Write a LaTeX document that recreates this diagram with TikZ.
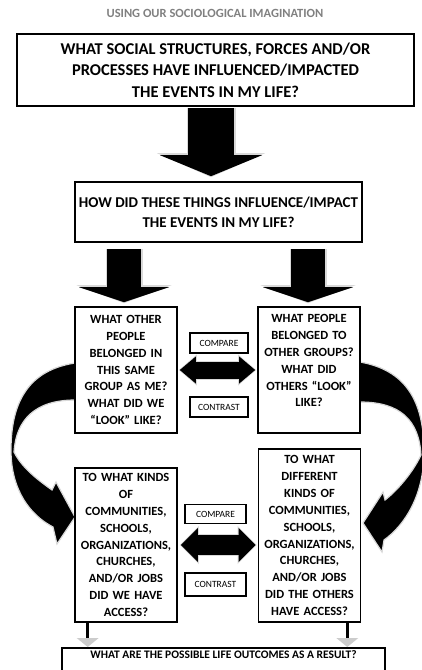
\documentclass[tikz,border=0pt]{standalone}
\usepackage{fontspec}
\setmainfont{Carlito}
\usetikzlibrary{arrows.meta}
\tikzset{>=latex}
\tikzset{
  qbox/.style={draw, line width=1.6pt, align=center, inner sep=2pt},
  sbox/.style={qbox, text width=96pt, minimum width=102pt, font=\bfseries\fontsize{12.5}{16.9}\selectfont},
  tagbox/.style={draw, line width=1.1pt, inner sep=0pt, font=\fontsize{9.5}{11}\selectfont},
  blockarr/.style n args={3}{line width=#1, -{Triangle[width=#2,length=#3,line width=0pt]}},
  dblarr/.style n args={3}{line width=#1, {Triangle[width=#2,length=#3,line width=0pt]}-{Triangle[width=#2,length=#3,line width=0pt]}},
  curvearr/.style={fill=black, draw=black!15, line width=1.2pt}
}

\begin{document}
\begin{tikzpicture}[x=1pt,y=-1pt]

\useasboundingbox (0,0) rectangle (422,670);
\clip (0,0) rectangle (422,670);

\node[text=black!50, font=\bfseries\fontsize{12.5}{14}\selectfont] (title) at (215,13) {USING OUR SOCIOLOGICAL IMAGINATION};

% side arrows
\draw[curvearr] (75,363) .. controls (30,370) and (11,400) .. (11,450)
  .. controls (11,490) and (30,515) .. (53,527) -- (57,544) -- (75,517) -- (56,482) -- (52,490)
  .. controls (38,480) and (22,468) .. (14,452) .. controls (16,420) and (35,400) .. (75,400) -- cycle;
\draw[curvearr] (360,362) .. controls (405,370) and (424,400) .. (424,452)
  .. controls (424,495) and (405,525) .. (384,540) -- (382,552) -- (363,523) -- (383,492) -- (385,500)
  .. controls (398,490) and (413,472) .. (421,455) .. controls (419,420) and (400,402) .. (360,402) -- cycle;

\node[qbox, minimum width=397pt, minimum height=72pt, font=\bfseries\fontsize{16.5}{21.5}\selectfont] (q1) at (215.5,70)
  {WHAT SOCIAL STRUCTURES, FORCES AND/OR\\ PROCESSES HAVE INFLUENCED/IMPACTED\\ THE EVENTS IN MY LIFE?};
\node[qbox, minimum width=287pt, minimum height=60pt, font=\bfseries\fontsize{15}{20}\selectfont] (q2) at (218.5,212)
  {HOW DID THESE THINGS INFLUENCE/IMPACT\\ THE EVENTS IN MY LIFE?};

\node[sbox, minimum height=126pt] (l1) at (126,370)
  {WHAT OTHER\\ PEOPLE\\ BELONGED IN\\ THIS SAME\\ GROUP AS ME?\\ WHAT DID WE\\ “LOOK” LIKE?};
\node[sbox, minimum height=126pt, text depth=103.4pt] (r1) at (309,370)
  {WHAT PEOPLE\\ BELONGED TO\\ OTHER GROUPS?\\ WHAT DID\\ OTHERS “LOOK”\\ LIKE?};
\node[sbox, minimum height=154pt] (l2) at (126,545)
  {TO WHAT KINDS\\ OF\\ COMMUNITIES,\\ SCHOOLS,\\ ORGANIZATIONS,\\ CHURCHES,\\ AND/OR JOBS\\ DID WE HAVE\\ ACCESS?};
\node[sbox, minimum height=173pt] (r2) at (309.5,535.5)
  {TO WHAT\\ DIFFERENT\\ KINDS OF\\ COMMUNITIES,\\ SCHOOLS,\\ ORGANIZATIONS,\\ CHURCHES,\\ AND/OR JOBS\\ DID THE OTHERS\\ HAVE ACCESS?};

\node[tagbox, minimum width=58pt, minimum height=20pt] (cmp1) at (219,343) {COMPARE};
\node[tagbox, minimum width=58pt, minimum height=20pt] (con1) at (219,407) {CONTRAST};
\node[tagbox, minimum width=61pt, minimum height=19pt] (cmp2) at (215.5,514) {COMPARE};
\node[tagbox, minimum width=61pt, minimum height=23pt] (con2) at (215.5,584.5) {CONTRAST};

\node[qbox, anchor=north, minimum width=323pt, text height=9pt, text depth=28pt, font=\bfseries\fontsize{11.5}{14}\selectfont] (res) at (223.5,647)
  {WHAT ARE THE POSSIBLE LIFE OUTCOMES AS A RESULT?};

\coordinate (c0) at (211,0);
\coordinate (c1) at (124,0);
\coordinate (c2) at (308,0);
\coordinate (a1) at ([xshift=13.5pt]l2.south west);
\coordinate (a2) at ([xshift=-14pt]r2.south east);

\draw[blockarr={49pt}{108pt}{24pt}, black!15, shorten <=1pt, shorten >=4pt] (q1.south -| c0) -- (q2.north -| c0);
\draw[blockarr={46pt}{102pt}{21pt}, shorten <=1pt, shorten >=5pt] (q1.south -| c0) -- (q2.north -| c0);
\foreach \c/\b in {c1/l1, c2/r1} {
  \draw[blockarr={37pt}{95pt}{18pt}, black!15, shorten <=6pt, shorten >=3pt] (q2.south -| \c) -- (\b.north -| \c);
  \draw[blockarr={34pt}{90pt}{15pt}, shorten <=6pt, shorten >=4pt] (q2.south -| \c) -- (\b.north -| \c);
}

\draw[dblarr={19pt}{31pt}{18pt}, black!15, shorten <=1pt, shorten >=1pt] (l1.east) -- (r1.west);
\draw[dblarr={17pt}{27pt}{16pt}, shorten <=2pt, shorten >=2pt] (l1.east) -- (r1.west);
\draw[dblarr={22pt}{38pt}{19pt}, black!15, shorten <=2pt, shorten >=1pt] (l2.east) -- (l2.east -| r2.west);
\draw[dblarr={20pt}{34pt}{17pt}, shorten <=3pt, shorten >=2pt] (l2.east) -- (l2.east -| r2.west);

\draw[line width=3pt, -{Triangle[width=22pt,length=9pt,line width=0pt,color=black!20]}] (a1) -- (a1 |- res.north);
\draw[line width=3pt, -{Triangle[width=22pt,length=9pt,line width=0pt,color=black!20]}] (a2) -- (a2 |- res.north);

\end{tikzpicture}
\end{document}
